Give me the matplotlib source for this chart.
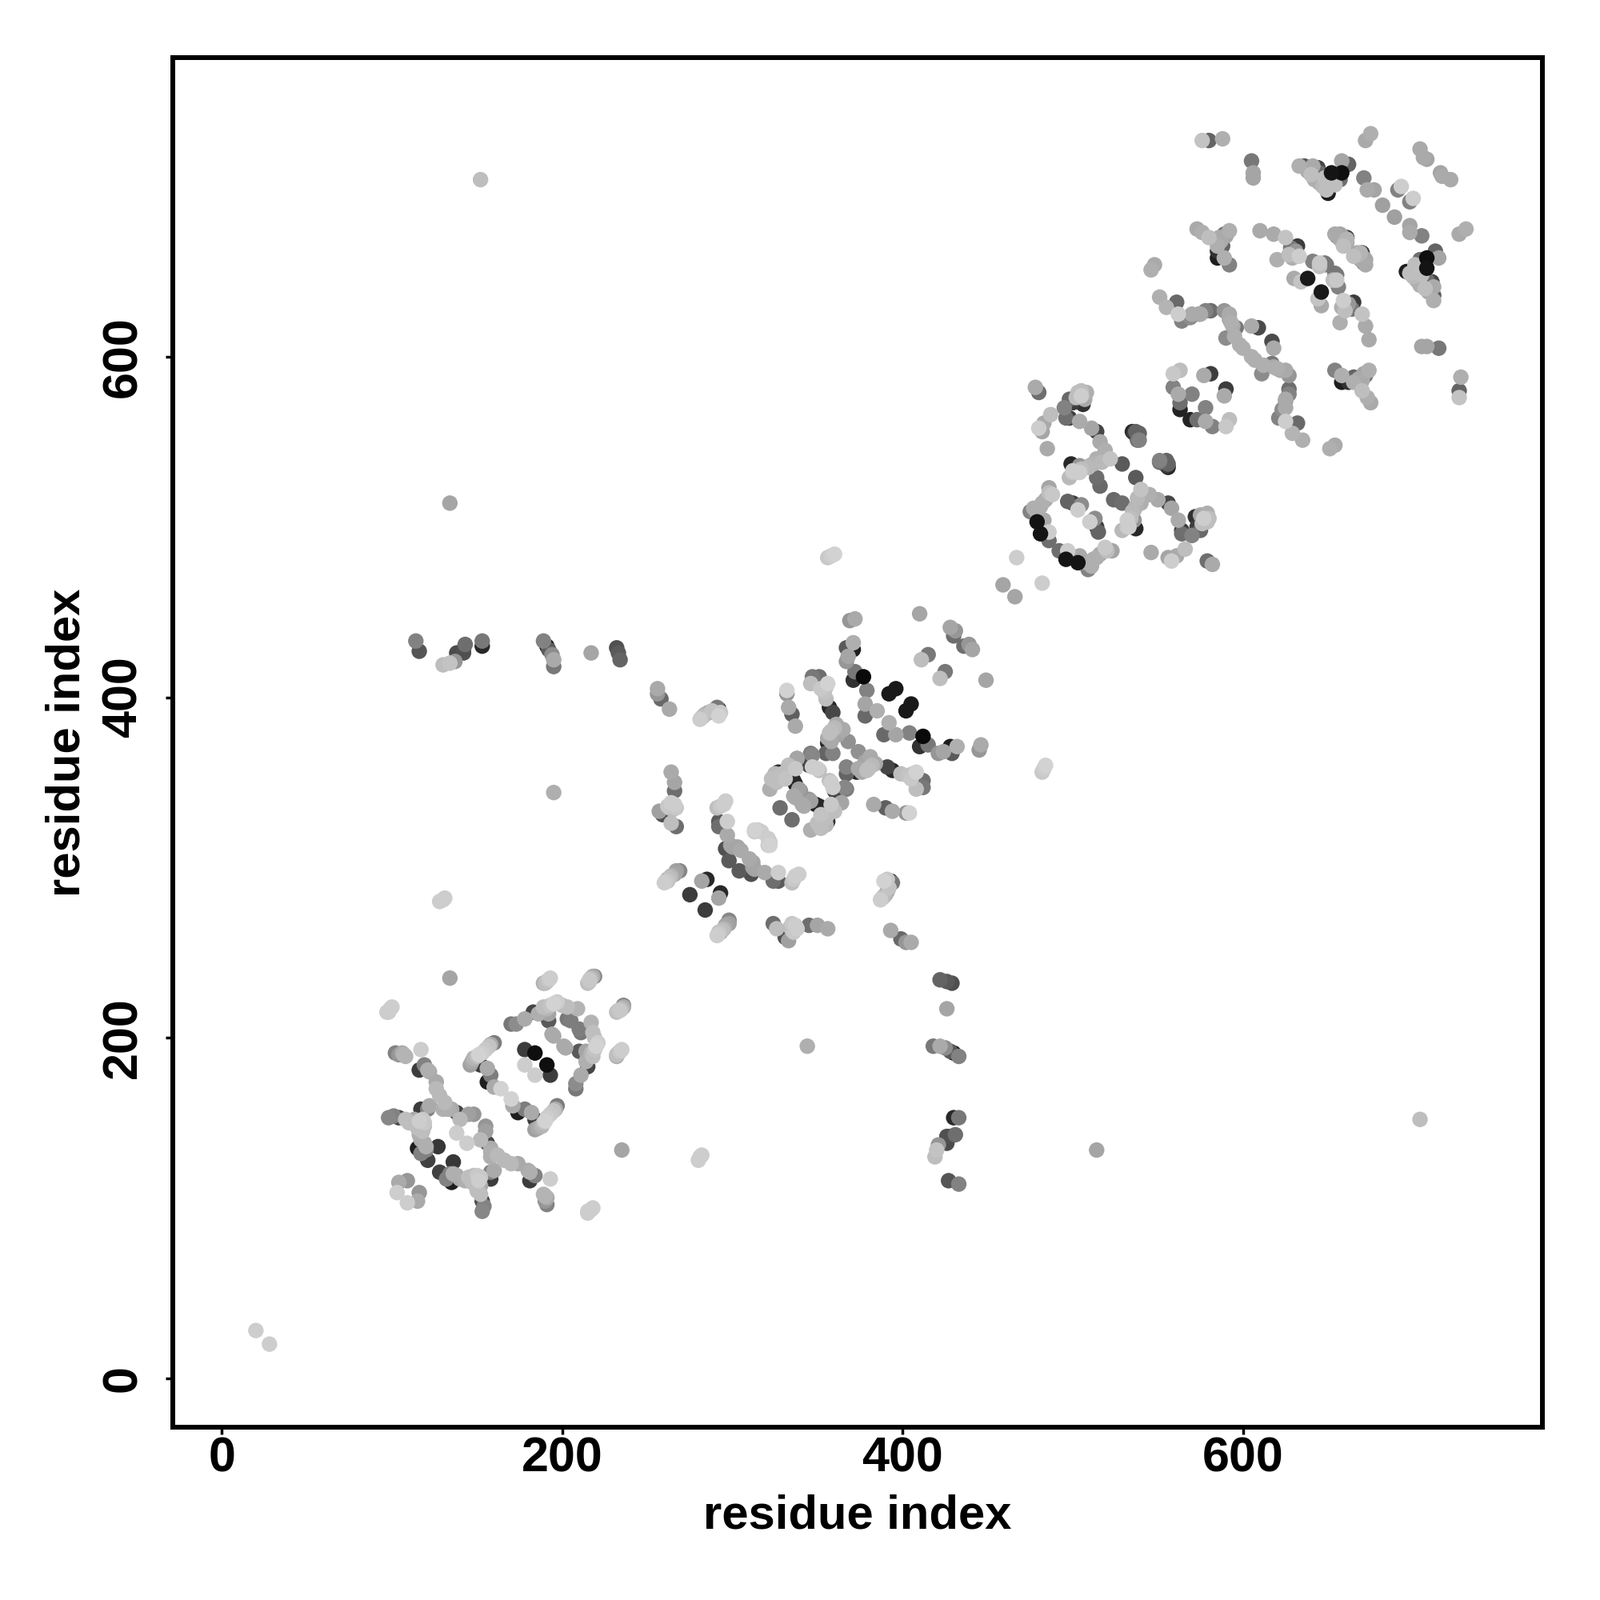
import numpy as np
import matplotlib
matplotlib.use("Agg")
import matplotlib.pyplot as plt

plt.rcParams['font.family'] = ['Liberation Sans', 'DejaVu Sans']

# contacts as (residue i, residue j, grey level 0-255)
# the map is symmetric so only i < j is listed
far_contacts = [
    (20, 28, 205), (152, 704, 190), (134, 514, 165), (195, 344, 175),
    (128, 280, 205), (130, 281, 205), (131, 282, 205),
    (134, 235, 165), (356, 482, 200), (358, 483, 205), (360, 484, 210),
    (114, 433, 130), (116, 427, 85), (130, 419, 190), (134, 420, 195),
    (137, 421, 150), (138, 426, 75), (142, 426, 80), (142, 428, 70),
    (143, 431, 110), (153, 430, 40), (153, 433, 120),
    (189, 433, 130), (191, 430, 30), (192, 428, 90), (194, 425, 140),
    (195, 422, 170), (195, 418, 120), (217, 426, 165),
    (232, 429, 80), (233, 426, 90), (234, 422, 100),
]

block_a = [
    (98, 215, 205), (100, 218, 205), (189, 232, 175), (191, 233, 190), (193, 235, 205),
    (215, 232, 190), (216, 234, 200), (219, 236, 135),
    (170, 208, 120), (173, 208, 140), (178, 211, 170), (183, 215, 70), (186, 214, 175),
    (189, 218, 190), (192, 210, 90), (192, 214, 165), (195, 220, 210), (200, 219, 190),
    (203, 211, 120), (203, 218, 190), (209, 217, 180), (194, 202, 170), (201, 195, 170),
    (205, 210, 125), (160, 197, 125), (157, 195, 195), (153, 191, 205), (151, 190, 210),
    (148, 188, 180), (146, 184, 160), (152, 184, 60), (156, 182, 170), (158, 178, 125),
    (156, 174, 30), (160, 171, 170), (164, 170, 210),
    (178, 193, 60), (184, 191, 15), (178, 184, 205),
    (102, 191, 130), (106, 191, 170), (108, 189, 180), (117, 193, 205), (119, 184, 130),
    (116, 181, 60), (121, 181, 175), (122, 180, 170), (126, 174, 170), (126, 170, 185),
    (131, 162, 185), (133, 158, 175), (130, 158, 175), (138, 156, 70), (145, 155, 160),
    (148, 155, 150), (138, 144, 205), (98, 153, 135), (101, 154, 130), (104, 153, 70),
    (108, 152, 190), (117, 158, 60), (121, 158, 130), (116, 151, 205), (118, 152, 200),
    (119, 148, 190), (116, 143, 175), (120, 136, 175), (127, 136, 55), (115, 135, 30),
    (119, 138, 170), (120, 134, 130), (117, 132, 130), (121, 128, 65),
    (109, 116, 150), (104, 115, 170), (103, 109, 205),
    (190, 232, 190), (192, 234, 200), (216, 233, 195), (217, 235, 185), (218, 236, 170),
    (99, 217, 205), (97, 215, 205), (191, 217, 180), (193, 219, 195), (197, 221, 205),
    (147, 186, 170), (150, 189, 190), (155, 193, 200), (158, 196, 170), (107, 190, 180),
    (104, 190, 150), (110, 150, 190), (113, 152, 170), (115, 147, 190), (118, 145, 190),
    (119, 150, 200), (117, 140, 170), (122, 160, 170), (128, 166, 185), (135, 158, 170),
    (140, 152, 185),
]

block_b = [
    (256, 405, 170), (256, 402, 150), (258, 399, 105), (263, 393, 170),
    (281, 387, 205), (283, 389, 185), (286, 391, 150), (291, 394, 120), (292, 389, 210), (292, 393, 40),
    (332, 404, 210), (332, 402, 150), (333, 394, 170), (335, 390, 95), (337, 383, 170),
    (347, 412, 120), (351, 412, 110), (346, 408, 190), (356, 408, 210), (354, 403, 195),
    (355, 399, 190), (357, 394, 40), (359, 391, 70), (361, 384, 170), (365, 381, 170),
    (357, 379, 190), (358, 374, 170), (356, 373, 40), (368, 374, 145), (359, 367, 130),
    (355, 367, 100), (338, 364, 160), (346, 367, 125), (333, 360, 190), (345, 360, 70),
    (350, 358, 205), (327, 356, 50), (324, 353, 185), (328, 353, 180), (336, 351, 40),
    (357, 351, 190), (359, 347, 205), (366, 347, 135), (339, 346, 160), (322, 346, 175),
    (336, 342, 170), (345, 340, 150), (349, 337, 30), (364, 338, 165), (358, 337, 200),
    (341, 337, 170), (328, 335, 110),
    (369, 445, 150), (372, 446, 170), (371, 432, 175), (367, 429, 90), (371, 428, 30),
    (368, 424, 165), (367, 421, 150), (372, 415, 120), (371, 410, 50), (377, 412, 10),
    (379, 404, 130), (392, 402, 25), (396, 405, 25), (378, 396, 165), (378, 389, 105),
    (385, 392, 175), (410, 449, 165), (415, 425, 120), (411, 422, 190),
    (428, 441, 165), (431, 439, 150), (430, 436, 110),
    (264, 356, 170), (266, 350, 165), (266, 345, 110), (266, 337, 205), (263, 335, 190),
    (257, 333, 160), (259, 331, 80), (264, 326, 190), (267, 324, 110),
    (295, 337, 205), (291, 335, 190), (292, 327, 90), (297, 327, 205), (292, 324, 110),
    (297, 319, 170), (299, 313, 165), (303, 312, 165), (296, 311, 80), (298, 304, 90),
    (313, 322, 210), (315, 322, 205), (321, 317, 205), (321, 313, 205),
    (269, 298, 135), (266, 296, 165), (262, 293, 60), (263, 294, 190), (260, 291, 205),
    (282, 292, 165), (285, 293, 40), (275, 284, 60),
    (282, 388, 190), (284, 390, 175), (288, 392, 195), (293, 391, 200), (262, 336, 200),
    (264, 338, 205), (265, 334, 190), (267, 335, 200), (293, 336, 200), (296, 339, 205),
    (300, 312, 160), (305, 310, 170), (323, 352, 190), (325, 355, 185), (326, 350, 190),
    (329, 355, 190), (331, 352, 195), (352, 405, 200), (355, 406, 195), (358, 380, 190),
    (356, 376, 170), (360, 382, 185), (362, 378, 165),
    (262, 292, 195), (264, 295, 180), (261, 292, 200), (267, 298, 160),
]

block_c = [
    (459, 466, 165), (467, 482, 205),
    (478, 582, 170), (480, 579, 110), (503, 579, 190), (508, 579, 175), (506, 572, 50),
    (498, 575, 105), (495, 570, 130), (500, 573, 60), (496, 564, 110), (498, 564, 60),
    (504, 562, 170), (511, 558, 165), (514, 556, 70), (516, 550, 170), (519, 545, 175),
    (522, 540, 195), (529, 537, 90), (535, 556, 40), (537, 556, 100), (538, 551, 110),
    (551, 539, 130), (555, 536, 60), (555, 539, 100),
    (487, 566, 190), (483, 561, 170), (480, 558, 205), (482, 556, 165), (485, 546, 170),
    (499, 537, 40), (504, 536, 150), (500, 532, 200), (498, 529, 185), (504, 532, 205),
    (512, 537, 180), (509, 535, 185), (514, 529, 110), (516, 524, 105),
    (486, 523, 165), (488, 519, 200), (482, 514, 175), (477, 511, 175), (475, 509, 130),
    (497, 515, 100), (500, 514, 60), (505, 513, 140), (503, 510, 205),
    (483, 504, 170), (479, 503, 20), (481, 496, 20), (486, 497, 205), (486, 492, 110),
    (502, 576, 190), (505, 577, 205), (507, 575, 170), (505, 580, 190), (479, 508, 170),
    (481, 512, 175), (484, 516, 170), (486, 520, 190), (510, 536, 175), (514, 540, 175),
    (517, 538, 185), (500, 533, 205), (505, 534, 190),
]

block_d = [
    (546, 651, 175), (548, 654, 170),
    (581, 590, 60), (577, 589, 170), (559, 590, 200), (563, 592, 190), (559, 582, 130),
    (562, 578, 170), (570, 578, 130), (563, 573, 110), (563, 569, 35),
    (576, 727, 195), (580, 727, 100), (588, 728, 175), (605, 715, 120), (606, 708, 165), (606, 705, 165),
    (633, 712, 175), (636, 712, 90), (641, 712, 170), (644, 711, 70), (645, 708, 110),
    (648, 705, 190), (649, 698, 190), (650, 696, 30), (651, 701, 110), (654, 701, 190),
    (652, 708, 20), (658, 708, 15), (657, 704, 110), (658, 715, 165), (662, 713, 100),
    (672, 727, 170), (675, 731, 175), (671, 705, 130), (673, 698, 170), (677, 698, 165),
    (691, 698, 130), (693, 700, 205), (682, 689, 160),
    (704, 722, 170), (706, 717, 170), (708, 716, 165),
    (573, 675, 170), (576, 673, 175), (580, 670, 190), (586, 670, 170), (589, 672, 120),
    (592, 674, 175), (588, 665, 100), (585, 662, 50), (585, 658, 30), (589, 658, 175), (592, 654, 130),
    (610, 674, 170), (618, 672, 170), (625, 670, 195), (628, 664, 120), (632, 665, 60),
    (629, 658, 175), (633, 659, 205), (620, 657, 175), (641, 656, 130), (645, 653, 190),
    (648, 655, 120), (654, 649, 120), (655, 645, 200), (630, 646, 170), (634, 644, 195), (638, 646, 25),
    (654, 672, 170), (657, 672, 165), (660, 666, 50), (661, 669, 180), (667, 661, 170),
    (670, 661, 60), (671, 655, 110), (671, 658, 165),
    (551, 635, 175), (555, 629, 180), (561, 632, 105), (562, 625, 205), (564, 621, 130),
    (569, 623, 140), (574, 625, 150), (578, 627, 130), (581, 627, 110), (589, 627, 150),
    (592, 622, 170), (596, 617, 120), (590, 611, 140), (598, 607, 175), (605, 618, 170), (609, 617, 75),
    (638, 709, 170), (640, 707, 190), (642, 704, 175), (645, 702, 170), (647, 700, 185),
    (650, 703, 150), (653, 706, 130), (587, 668, 170), (588, 670, 150), (590, 671, 165),
    (585, 665, 175), (627, 660, 190), (631, 662, 150), (665, 659, 190), (668, 660, 180),
    (669, 657, 170), (575, 625, 170), (570, 625, 170), (592, 625, 170), (593, 620, 175),
    (594, 618, 170), (595, 612, 175), (600, 605, 175),
]

contacts = np.array(far_contacts + block_a + block_b + block_c + block_d)
res_i, res_j, grey = contacts.T

xticks = [0, 200, 400, 600]
yticks = [0, 200, 400, 600]

fig = plt.figure(figsize=(20, 20), dpi=100)
ax = fig.add_axes([0.108, 0.108, 0.856, 0.856])

# both halves of the map, dark ones underneath since they mostly show as crescents
# but the near black ones sit on top
xs = np.concatenate([res_j, res_i])
ys = np.concatenate([res_i, res_j])
shades = np.concatenate([grey, grey]) / 255
rank = np.where(shades < 0.1, 1.0, shades)
order = np.argsort(rank)
ax.scatter(xs[order], ys[order], s=195, c=shades[order], cmap='gray', vmin=0, vmax=1, linewidths=0)

ax.set_xlim(-28.8, 775.9)
ax.set_ylim(-28.8, 775.7)
ax.set_xticks(xticks)
ax.set_yticks(yticks)
ax.tick_params(length=6.5, width=2.5, labelsize=44)
ax.tick_params(axis='x', pad=1.5)
ax.tick_params(axis='y', pad=17)
for lab in ax.get_xticklabels() + ax.get_yticklabels():
    lab.set_fontweight('bold')
for lab in ax.get_yticklabels():
    lab.set_rotation(90)
    lab.set_va('center')
for sp in ax.spines.values():
    sp.set_linewidth(4.3)

ax.set_xlabel('residue index', fontsize=43, fontweight='bold', labelpad=11)
ax.set_ylabel('residue index', fontsize=43, fontweight='bold', labelpad=11)

fig.savefig('out.png', dpi=100, facecolor='white')
